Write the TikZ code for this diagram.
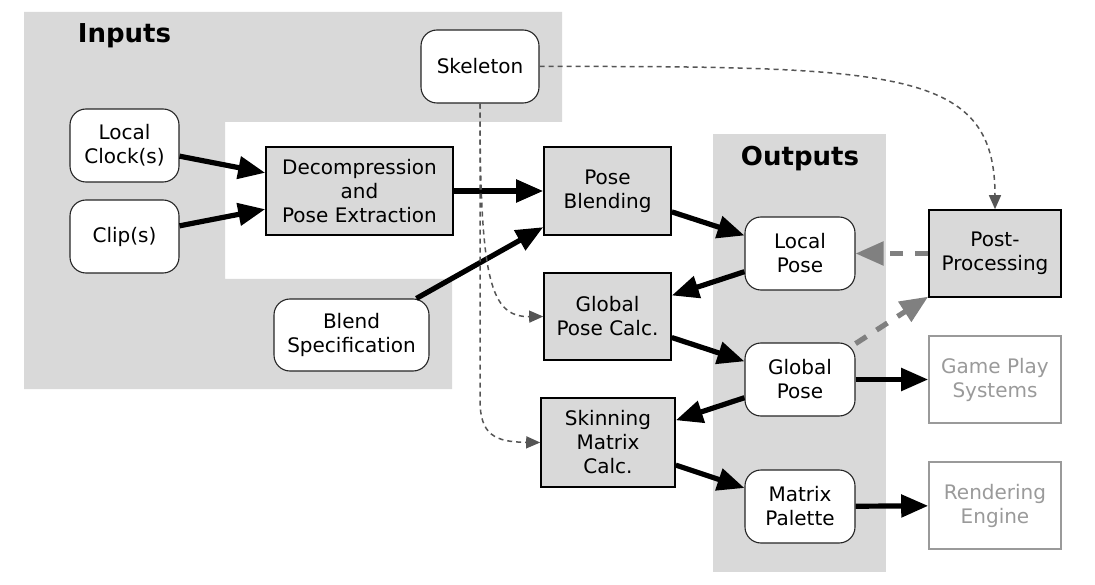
\documentclass[tikz,border=0pt]{standalone}
\usepackage{fontspec}
\setmainfont{DejaVu Sans}
\usetikzlibrary{arrows.meta}
\definecolor{panel}{HTML}{D9D9D9}
\definecolor{dimtext}{HTML}{9A9A9A}
\definecolor{thindash}{HTML}{555555}
\definecolor{thickdash}{HTML}{808080}
\tikzset{
  stepbox/.style={rectangle, draw=black, line width=1.6pt, fill=panel, align=center, inner sep=0pt},
  databox/.style={rectangle, rounded corners=16pt, draw=black!85, line width=1.1pt, fill=white, align=center, inner sep=0pt},
  sinkbox/.style={rectangle, draw=dimtext, line width=1.6pt, fill=white, text=dimtext, align=center, inner sep=0pt},
  flow/.style={line width=5.2pt, -{Triangle[length=27pt,width=22pt]}},
  feedback/.style={draw=thickdash, line width=5.2pt, dash pattern=on 13pt off 12pt, -{Triangle[length=28pt,width=23pt,fill=thickdash]}},
  skelref/.style={draw=thindash, line width=1.5pt, dash pattern=on 5pt off 4pt, -{Triangle[length=14pt,width=12pt,fill=thindash]}},
  title/.style={font=\fontsize{26}{30}\selectfont\bfseries}
}
\begin{document}
\begin{tikzpicture}[x=1pt, y=-1pt, font=\fontsize{20}{24}\selectfont]
\useasboundingbox (0,0) rectangle (1095,585);

% shaded panels
\fill[panel] (24,12) -- (562,12) -- (562,122) -- (225,122) -- (225,279)
  -- (452,279) -- (452,389) -- (24,389) -- cycle;
\fill[panel] (713,134) rectangle (886,572);

\node[title] (inputs) at (124.5,36) {Inputs};
\node[title] (outputs) at (800,159) {Outputs};

% inputs
\node[databox, minimum width=118pt, minimum height=73pt] (skel) at (480,66.5) {Skeleton};
\node[databox, minimum width=109pt, minimum height=73pt] (lc) at (124.5,145.5) {Local\\Clock(s)};
\node[databox, minimum width=109pt, minimum height=73pt] (clip) at (124.5,236.5) {Clip(s)};
\node[databox, minimum width=155pt, minimum height=72pt] (bs) at (351.5,335) {Blend\\Specification};

% processing steps
\node[stepbox, minimum width=187pt, minimum height=88pt] (dec) at (359.5,191) {Decompression\\and\\Pose Extraction};
\node[stepbox, minimum width=127pt, minimum height=88pt] (pb) at (607.5,191) {Pose\\Blending};
\node[stepbox, minimum width=127pt, minimum height=87pt] (gpc) at (607.5,316.5) {Global\\Pose Calc.};
\node[stepbox, minimum width=134pt, minimum height=89pt] (skin) at (608,442.5) {Skinning\\Matrix\\Calc.};
\node[stepbox, minimum width=132pt, minimum height=87pt] (pp) at (995,253.5) {Post-\\Processing};

% outputs
\node[databox, minimum width=110pt, minimum height=73pt] (lp) at (800,253.5) {Local\\Pose};
\node[databox, minimum width=110pt, minimum height=73pt] (gp) at (800,379.5) {Global\\Pose};
\node[databox, minimum width=110pt, minimum height=73pt] (mp) at (800,506.5) {Matrix\\Palette};

% consumers
\node[sinkbox, minimum width=132pt, minimum height=87pt] (gps) at (995,379.5) {Game Play\\Systems};
\node[sinkbox, minimum width=132pt, minimum height=87pt] (re) at (995,505.5) {Rendering\\Engine};

% main data flow
\draw[flow] (lc) -- (dec);
\draw[flow] (clip) -- (dec);
\draw[flow] (dec) -- (pb);
\draw[flow] (bs) -- (pb);
\draw[flow] (pb) -- (lp);
\draw[flow] (lp) -- (gpc);
\draw[flow] (gpc) -- (gp);
\draw[flow] (gp) -- (skin);
\draw[flow] (skin) -- (mp);
\draw[flow] (gp) -- (gps);
\draw[flow] (mp) -- (re);

% optional post-processing loop
\draw[feedback] (pp) -- (lp);
\draw[feedback] (gp) -- (pp);

% skeleton references
\draw[skelref] (skel.east) .. controls (900,66) and (995,70) .. (pp.north);
\draw[skelref] (skel.south) .. controls (480,280) and (490,317) .. (gpc.west);
\draw[skelref] (skel.south) -- (480,400) .. controls (480,435) and (495,442) .. (skin.west);
\end{tikzpicture}
\end{document}
